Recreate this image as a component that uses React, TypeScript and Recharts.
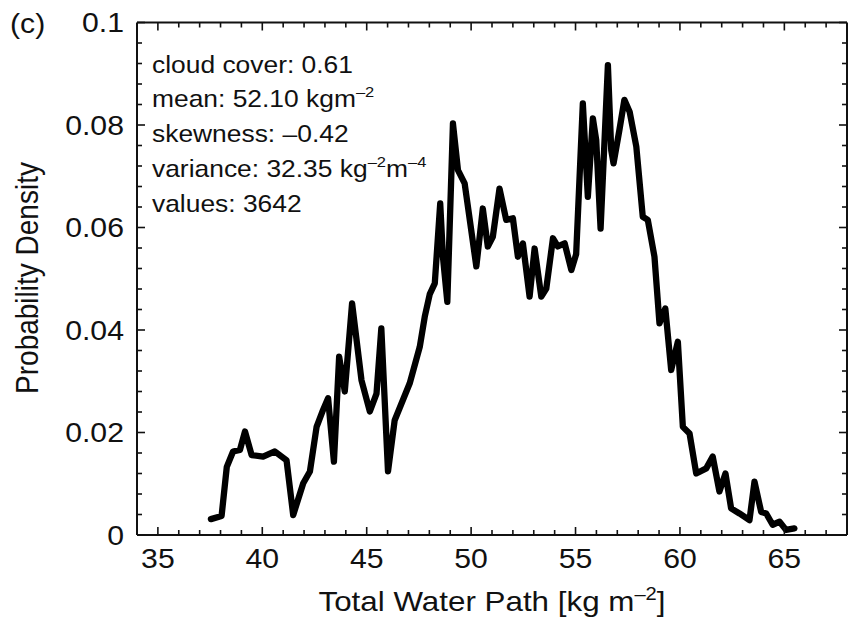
import React from 'react';
import { LineChart, Line, XAxis, YAxis } from 'recharts';

// Total water path [kg m^-2]
const twp = [
  37.54, 38.05, 38.3, 38.6, 38.93, 39.17, 39.49, 40.04, 40.6, 41.16, 41.48, 41.96,
  42.28, 42.6, 42.91, 43.15, 43.43, 43.68, 43.95, 44.3, 44.75, 45.15, 45.47, 45.7,
  46.02, 46.34, 47.06, 47.54, 47.78, 48.02, 48.26, 48.52, 48.65, 48.86, 49.13, 49.37,
  49.69, 50.25, 50.56, 50.8, 51.04, 51.36, 51.68, 52.0, 52.24, 52.48, 52.8, 53.04,
  53.36, 53.6, 53.92, 54.15, 54.48, 54.8, 55.03, 55.35, 55.59, 55.83, 55.99, 56.2,
  56.55, 56.71, 56.82, 57.1, 57.34, 57.59, 57.91, 58.22, 58.46, 58.78, 59.02, 59.3,
  59.58, 59.9, 60.14, 60.46, 60.78, 61.26, 61.57, 61.89, 62.18, 62.45, 62.85, 63.33,
  63.57, 63.89, 64.13, 64.44, 64.77, 65.08, 65.48,
];

// Probability density
const density = [
  0.0031, 0.0037, 0.0133, 0.0163, 0.0166, 0.0202, 0.0156, 0.0153, 0.0163, 0.0146, 0.0039, 0.0101,
  0.0124, 0.0211, 0.0244, 0.0267, 0.0143, 0.0348, 0.028, 0.0452, 0.0302, 0.0241, 0.0276, 0.0403,
  0.0124, 0.0224, 0.0296, 0.0367, 0.0426, 0.047, 0.0491, 0.0647, 0.0543, 0.0455, 0.0803, 0.0712,
  0.0686, 0.0524, 0.0637, 0.0563, 0.0582, 0.0676, 0.0615, 0.0618, 0.0543, 0.0569, 0.0465, 0.0559,
  0.0465, 0.0481, 0.0579, 0.0563, 0.0569, 0.0517, 0.0548, 0.0842, 0.066, 0.0813, 0.0771, 0.0598,
  0.0917, 0.0751, 0.0725, 0.079, 0.0849, 0.0826, 0.0758, 0.0621, 0.0615, 0.0543, 0.0413, 0.0442,
  0.0322, 0.0377, 0.0211, 0.0198, 0.012, 0.013, 0.0153, 0.0085, 0.012, 0.0052, 0.0042, 0.0029,
  0.0104, 0.0045, 0.0042, 0.002, 0.0026, 0.001, 0.0013,
];

const xDomain = [34, 68];
const xMinorTicks = [35, 36, 37, 38, 39, 40, 41, 42, 43, 44, 45, 46, 47, 48, 49, 50, 51, 52, 53, 54, 55, 56, 57, 58, 59, 60, 61, 62, 63, 64, 65, 66, 67];
const xLabelTicks = [35, 40, 45, 50, 55, 60, 65];

const yDomain = [0, 0.1];
const yMinorTicks = [0, 0.004, 0.008, 0.012, 0.016, 0.02, 0.024, 0.028, 0.032, 0.036, 0.04, 0.044, 0.048, 0.052, 0.056, 0.06, 0.064, 0.068, 0.072, 0.076, 0.08, 0.084, 0.088, 0.092, 0.096, 0.1];
const yLabelTicks = [0, 0.02, 0.04, 0.06, 0.08, 0.1];
const yLabelText = ['0', '0.02', '0.04', '0.06', '0.08', '0.1'];

const panelLabel = '(c)';
const xTitle = 'Total Water Path [kg m';
const yTitle = 'Probability Density';

const data = twp.map((x, i) => ({ x, y: density[i] }));

const FONT = '"Liberation Sans", Arial, Helvetica, sans-serif';
const INK = '#111';
const SX = 1.12;
const TICK_FS = 27;

const isXLabel = (v: number) => xLabelTicks.indexOf(v) >= 0;
const yLabelIndex = (v: number) => yLabelTicks.findIndex((t) => Math.abs(t - v) < 1e-9);

function BottomTick(props: any) {
  const { x, y, payload } = props;
  const v = payload.value;
  const major = isXLabel(v);
  return (
    <g>
      <line x1={x} y1={y} x2={x} y2={y - (major ? 8 : 5)} stroke={INK} strokeWidth={1.6} />
      {major && (
        <text transform={`translate(${x},${y + 33}) scale(${SX},1)`} textAnchor="middle" fontSize={TICK_FS} fontFamily={FONT} fill={INK}>
          {v}
        </text>
      )}
    </g>
  );
}

function TopTick(props: any) {
  const { x, y, payload } = props;
  const major = isXLabel(payload.value);
  return <line x1={x} y1={y} x2={x} y2={y + (major ? 8 : 5)} stroke={INK} strokeWidth={1.6} />;
}

function LeftTick(props: any) {
  const { x, y, payload } = props;
  const idx = yLabelIndex(payload.value);
  const major = idx >= 0;
  return (
    <g>
      <line x1={x} y1={y} x2={x + (major ? 8 : 5)} y2={y} stroke={INK} strokeWidth={1.6} />
      {major && (
        <text transform={`translate(${x - 13},${y + 9.5}) scale(${SX},1)`} textAnchor="end" fontSize={TICK_FS} fontFamily={FONT} fill={INK}>
          {yLabelText[idx]}
        </text>
      )}
    </g>
  );
}

function RightTick(props: any) {
  const { x, y, payload } = props;
  const major = yLabelIndex(payload.value) >= 0;
  return <line x1={x} y1={y} x2={x - (major ? 8 : 5)} y2={y} stroke={INK} strokeWidth={1.6} />;
}

const axisLine = { stroke: INK, strokeWidth: 2 };

export default function App() {
  const statFs = 24;
  const supFs = 15;
  const lx = 152;
  return (
    <div style={{ position: 'absolute', left: 0, top: 0, width: 858, height: 620, background: '#fff' }}>
      <LineChart width={858} height={620} data={data} margin={{ top: 21.5, right: 10, bottom: 84, left: 136 }}>
        <XAxis xAxisId="b" dataKey="x" type="number" domain={xDomain} ticks={xMinorTicks} interval={0}
          orientation="bottom" height={1} tickSize={0} tickMargin={0} tickLine={false} axisLine={axisLine}
          tick={<BottomTick />} allowDataOverflow />
        <XAxis xAxisId="t" dataKey="x" type="number" domain={xDomain} ticks={xMinorTicks} interval={0}
          orientation="top" height={1} tickSize={0} tickMargin={0} tickLine={false} axisLine={axisLine}
          tick={<TopTick />} allowDataOverflow />
        <YAxis yAxisId="l" type="number" domain={yDomain} ticks={yMinorTicks} interval={0}
          orientation="left" width={1} tickSize={0} tickMargin={0} tickLine={false} axisLine={axisLine}
          tick={<LeftTick />} allowDataOverflow />
        <YAxis yAxisId="r" type="number" domain={yDomain} ticks={yMinorTicks} interval={0}
          orientation="right" width={1} tickSize={0} tickMargin={0} tickLine={false} axisLine={axisLine}
          tick={<RightTick />} allowDataOverflow />
        <Line xAxisId="b" yAxisId="l" type="linear" dataKey="y" stroke="#000" strokeWidth={6.3}
          strokeLinejoin="round" strokeLinecap="round" dot={false} activeDot={false} isAnimationActive={false} />
      </LineChart>
      <svg width={858} height={620} style={{ position: 'absolute', left: 0, top: 0, pointerEvents: 'none', overflow: 'hidden' }}
        fontFamily={FONT} fill={INK}>
        <text transform={`translate(10,33) scale(${SX},1)`} fontSize={27}>{panelLabel}</text>
        <g fontSize={statFs}>
          <text transform={`translate(${lx},72.7) scale(1.1,1)`}>cloud cover: 0.61</text>
          <text transform={`translate(${lx},107) scale(1.1,1)`}>
            mean: 52.10 kgm<tspan fontSize={supFs} dy={-10}>–2</tspan>
          </text>
          <text transform={`translate(${lx},141.7) scale(1.1,1)`}>skewness: –0.42</text>
          <text transform={`translate(${lx},176.7) scale(1.1,1)`}>
            variance: 32.35 kg<tspan fontSize={supFs} dy={-10}>–2</tspan>
            <tspan dy={10}>m</tspan><tspan fontSize={supFs} dy={-10}>–4</tspan>
          </text>
          <text transform={`translate(${lx},211.7) scale(1.1,1)`}>values: 3642</text>
        </g>
        <text transform={`translate(492,611) scale(${SX},1)`} textAnchor="middle" fontSize={28}>
          {xTitle}<tspan fontSize={18} dy={-11}>–2</tspan><tspan dy={11}>]</tspan>
        </text>
        <text transform={`translate(38,278) scale(${SX},1) rotate(-90)`} textAnchor="middle" fontSize={28}>
          {yTitle}
        </text>
      </svg>
    </div>
  );
}
